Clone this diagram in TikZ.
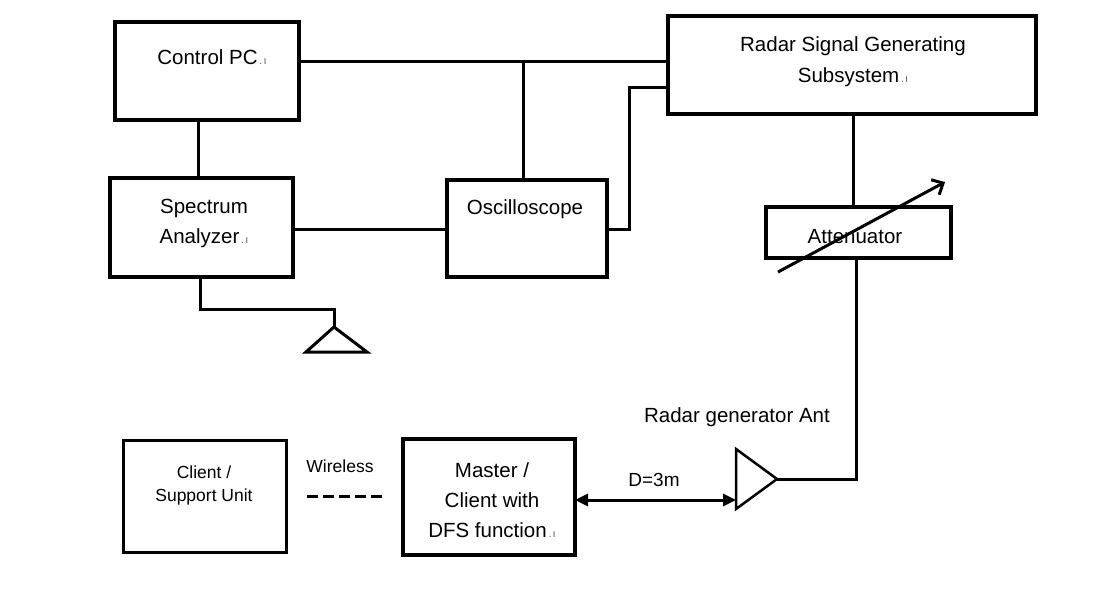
\documentclass[tikz,border=0pt]{standalone}
\usepackage{fontspec}
\setmainfont{Liberation Sans}
\usetikzlibrary{arrows.meta}
\newcommand\pmk{{\fontsize{11}{11}\selectfont\textcolor{black!60}{\,.\kern1pt ı}}}
\begin{document}
\begin{tikzpicture}[x=1pt,y=-1pt,
  box/.style={draw,line width=4pt,inner sep=0pt,outer sep=0pt},
  wire/.style={line width=3pt,line join=miter},
  txt/.style={inner sep=0pt,align=center,font=\fontsize{20.5}{30}\selectfont},
  small/.style={inner sep=0pt,align=center,font=\fontsize{17.5}{23}\selectfont}]
\useasboundingbox (0,0) rectangle (1095,590);
\fill[white] (0,0) rectangle (1095,590);
% boxes
\node[box,minimum width=184pt,minimum height=98pt] (cpc) at (207,71) {};
\node[box,minimum width=183pt,minimum height=99pt] (spec) at (201.5,227.5) {};
\node[box,minimum width=160pt,minimum height=97pt] (osc) at (527,228.5) {};
\node[box,minimum width=368pt,minimum height=98pt] (radar) at (852,65) {};
\node[box,minimum width=185pt,minimum height=51pt] (att) at (858.5,232.5) {};
\node[box,line width=3pt,minimum width=163pt,minimum height=112pt] (client) at (204.5,496) {};
\node[box,minimum width=172pt,minimum height=116pt] (master) at (489,497) {};
% texts
\node[txt] (cpct) at (212,57) {Control PC\pmk};
\node[txt] (spect) at (204,223) {Spectrum\\Analyzer\pmk};
\node[txt] (osct) at (525,209) {Oscilloscope};
\node[txt,font=\fontsize{20.5}{31}\selectfont] (radart) at (853,61.5) {Radar Signal Generating\\Subsystem\pmk};
\node[txt] (attt) at (855,237) {Attenuator};
\node[small] (clientt) at (204,485.5) {Client /\\Support Unit};
\node[small] (wlt) at (340,466) {Wireless};
\node[txt,font=\fontsize{20.5}{30}\selectfont] (mastert) at (492,500) {Master /\\Client with\\DFS function\pmk};
\node[txt,font=\fontsize{19}{19}\selectfont] (dt) at (654,480) {D=3m};
\node[txt,font=\fontsize{20.5}{20.5}\selectfont] (antt) at (737,417) {Radar generator Ant};
% helper coordinates
\coordinate (yTop) at (0,61);
\coordinate (xJ) at (523,0);
\coordinate (xCS) at (198,0);
\coordinate (yOsc) at (0,229);
\coordinate (xO) at (629,0);
\coordinate (yR2) at (0,87);
\coordinate (xRA) at (853,0);
\coordinate (xAA) at (856,0);
\coordinate (xA1) at (200,0);
\coordinate (a1feed) at (334,309);
\coordinate (a1apex) at (334,327);
\coordinate (a1l) at (306,352);
\coordinate (a1r) at (367,352);
\coordinate (a2tip) at (777,479);
\coordinate (a2top) at (736,449);
\coordinate (a2bot) at (736,509);
\coordinate (yD) at (0,500);
\coordinate (wl1) at (307,496);
\coordinate (wl2) at (383,496);
\coordinate (attA) at (778,272);
\coordinate (attB) at (945,182);
% connectors
\draw[wire] (cpc.east |- yTop) -- (radar.west |- yTop);
\draw[wire] (xJ |- yTop) -- (osc.north -| xJ);
\draw[wire] (cpc.south -| xCS) -- (spec.north -| xCS);
\draw[wire] (spec.east |- yOsc) -- (osc.west |- yOsc);
\draw[wire] (osc.east |- yOsc) -| (xO |- yR2) -- (radar.west |- yR2);
\draw[wire] (radar.south -| xRA) -- (att.north -| xRA);
\draw[wire] (att.south -| xAA) |- (a2tip);
\draw[wire] (spec.south -| xA1) |- (a1feed) -- (a1apex);
% antennas
\draw[wire] (a1apex) -- (a1l) -- (a1r) -- cycle;
\draw[line width=2.5pt,line join=miter] (a2top) -- (a2tip) -- (a2bot) -- cycle;
% distance arrow
\draw[line width=3pt,{Triangle[length=13pt,width=12pt]}-{Triangle[length=13pt,width=12pt]}]
  (master.east |- yD) -- (a2top |- yD);
% wireless link
\draw[line width=3pt,dash pattern=on 11pt off 5pt] (wl1) -- (wl2);
% attenuator arrow
\draw[line width=3pt,-{Straight Barb[length=9pt,width=17pt,line width=3pt]}] (attA) -- (attB);
\end{tikzpicture}
\end{document}
